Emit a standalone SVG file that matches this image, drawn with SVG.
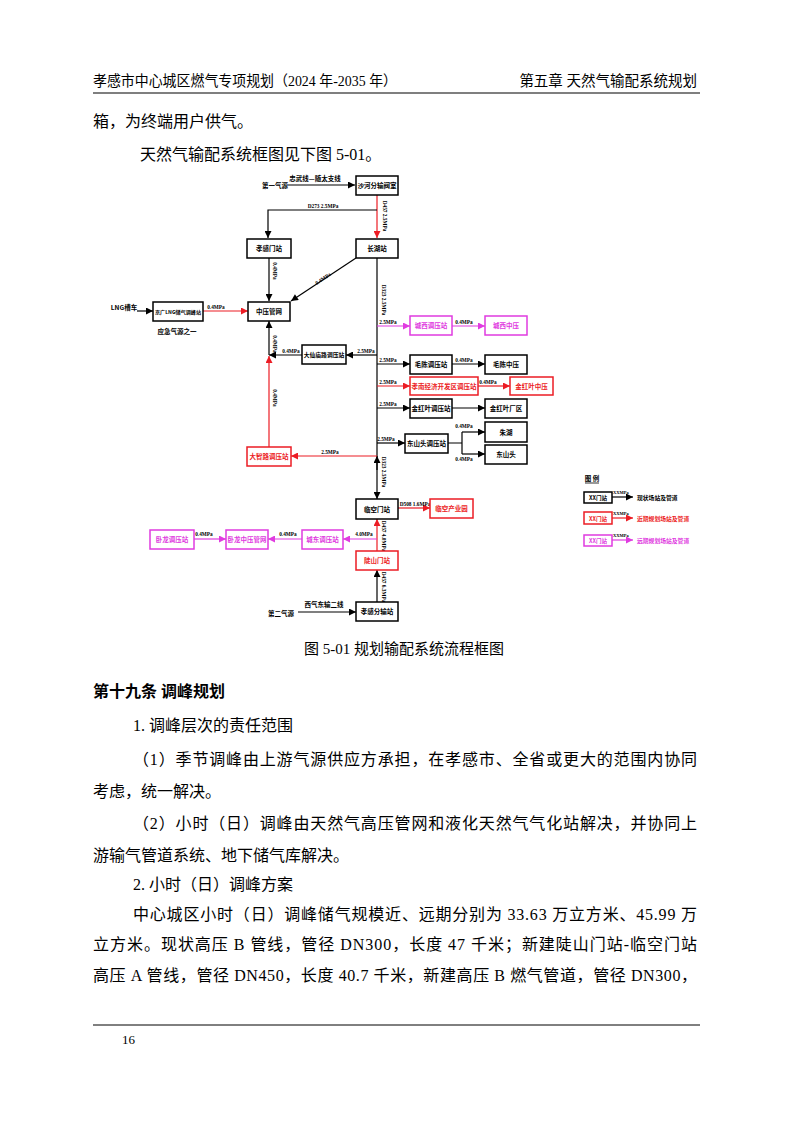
<svg xmlns="http://www.w3.org/2000/svg" width="794" height="1123" viewBox="0 0 794 1123">
<defs>
<marker id="ak" viewBox="0 0 10 10" refX="10" refY="5" markerWidth="11" markerHeight="7" orient="auto" markerUnits="userSpaceOnUse"><path d="M0,0 L10,5 L0,10 z" fill="#000"/></marker>
<marker id="ar" viewBox="0 0 10 10" refX="10" refY="5" markerWidth="11" markerHeight="7" orient="auto" markerUnits="userSpaceOnUse"><path d="M0,0 L10,5 L0,10 z" fill="#ec1c24"/></marker>
<marker id="am" viewBox="0 0 10 10" refX="10" refY="5" markerWidth="11" markerHeight="7" orient="auto" markerUnits="userSpaceOnUse"><path d="M0,0 L10,5 L0,10 z" fill="#e03be0"/></marker>
</defs>
<style>
.bk{fill:#fff;stroke:#000;stroke-width:1.5}
.br{fill:#fff;stroke:#ec1c24;stroke-width:1.5}
.bm{fill:#fff;stroke:#e03be0;stroke-width:1.5}
.t{font-family:"Noto Sans CJK SC",sans-serif;font-size:6.5px;font-weight:bold;text-anchor:middle;fill:#000}
.r{fill:#ec1c24}
.m{fill:#e03be0}
.p{font-family:"Liberation Serif","Noto Sans CJK SC",serif;font-size:5.3px;font-weight:bold;fill:#000}
.pc{text-anchor:middle}
.lk{stroke:#000;stroke-width:1.2;fill:none}
.lr{stroke:#ec1c24;stroke-width:1.2;fill:none}
.lm{stroke:#e03be0;stroke-width:1.2;fill:none}
.b{font-family:"Liberation Serif","Noto Sans CJK SC",serif;font-size:16px;fill:#000}
.h{font-family:"Liberation Serif","Noto Sans CJK SC",serif;font-size:14.5px;fill:#000}
</style>
<rect width="794" height="1123" fill="#fff"/>

<!-- page header -->
<text class="h" x="93" y="86" textLength="304" lengthAdjust="spacingAndGlyphs">孝感市中心城区燃气专项规划（2024 年-2035 年）</text>
<text class="h" x="697" y="86" text-anchor="end">第五章 天然气输配系统规划</text>
<line x1="93" y1="93" x2="700" y2="93" stroke="#000" stroke-width="1.2"/>

<text class="b" x="93" y="127">箱，为终端用户供气。</text>
<text class="b" x="140" y="160">天然气输配系统框图见下图 5-01。</text>

<!-- connectors -->
<g id="connectors">
<path class="lk" d="M288,185 H355" marker-end="url(#ak)"/>
<path class="lr" d="M377,195 V238" marker-end="url(#ar)"/>
<path class="lk" d="M377,210 H268 V238" marker-end="url(#ak)"/>
<path class="lk" d="M269,258 V301" marker-end="url(#ak)"/>
<path class="lk" d="M356,258 L291,301" marker-end="url(#ak)"/>
<path class="lk" d="M377,258 V499" marker-end="url(#ak)"/>
<path class="lk" d="M377,470 V456" marker-end="url(#ak)"/>
<path class="lk" d="M137,311 H153" marker-end="url(#ak)"/>
<path class="lr" d="M203,311 H248" marker-end="url(#ar)"/>
<path class="lk" d="M269,355 V321" marker-end="url(#ak)"/>
<path class="lk" d="M302,355 H269" marker-end="url(#ak)"/>
<path class="lk" d="M377,355 H346" marker-end="url(#ak)"/>
<path class="lr" d="M269,447 V356" marker-end="url(#ar)"/>
<path class="lr" d="M377,456 H291" marker-end="url(#ar)"/>
<path class="lm" d="M377,326 H410" marker-end="url(#am)"/>
<path class="lm" d="M452,326 H485" marker-end="url(#am)"/>
<path class="lk" d="M377,364 H410" marker-end="url(#ak)"/>
<path class="lk" d="M452,364 H485" marker-end="url(#ak)"/>
<path class="lr" d="M377,386 H410" marker-end="url(#ar)"/>
<path class="lr" d="M478,386 H510" marker-end="url(#ar)"/>
<path class="lk" d="M377,408 H410" marker-end="url(#ak)"/>
<path class="lk" d="M452,408 H485" marker-end="url(#ak)"/>
<path class="lk" d="M377,443 H405" marker-end="url(#ak)"/>
<path class="lk" d="M448,443 H462 M462,432 V454"/>
<path class="lk" d="M462,432 H485" marker-end="url(#ak)"/>
<path class="lk" d="M462,454 H485" marker-end="url(#ak)"/>
<path class="lr" d="M398,508 H430" marker-end="url(#ar)"/>
<path class="lr" d="M377,551 V519" marker-end="url(#ar)"/>
<path class="lk" d="M377,602 V570" marker-end="url(#ak)"/>
<path class="lk" d="M298,612 H356" marker-end="url(#ak)"/>
<path class="lm" d="M377,539 H343" marker-end="url(#am)"/>
<path class="lm" d="M302,539 H268" marker-end="url(#am)"/>
<path class="lm" d="M194,539 H226" marker-end="url(#am)"/>
</g>

<!-- connector labels -->
<g id="labels">
<text class="t" x="275" y="188">第一气源</text>
<text class="t" x="315" y="181">忠武线—随太支线</text>
<text class="p r pc" transform="translate(383,216) rotate(90)">D457 2.5MPa</text>
<text class="p pc" x="323" y="208">D273 2.5MPa</text>
<text class="p pc" transform="translate(273,271) rotate(90)">0.4MPa</text>
<text class="p pc" transform="translate(324,280) rotate(-34)">0.4MPa</text>
<text class="p pc" transform="translate(382,300) rotate(90)">D323 2.5MPa</text>
<text class="t" x="124" y="310">LNG槽车</text>
<text class="p r pc" x="216" y="309">0.4MPa</text>
<text class="t" x="177" y="334">应急气源之一</text>
<text class="p pc" transform="translate(273,344) rotate(90)">0.4MPa</text>
<text class="p pc" x="291" y="353">0.4MPa</text>
<text class="p pc" x="366" y="353">2.5MPa</text>
<text class="p r pc" transform="translate(273,398) rotate(90)">0.4MPa</text>
<text class="p r pc" x="330" y="454">2.5MPa</text>
<text class="p m pc" x="388" y="324">2.5MPa</text>
<text class="p m pc" x="464" y="324">0.4MPa</text>
<text class="p pc" x="388" y="362">2.5MPa</text>
<text class="p pc" x="464" y="362">0.4MPa</text>
<text class="p r pc" x="388" y="384">2.5MPa</text>
<text class="p r pc" x="488" y="384">0.4MPa</text>
<text class="p pc" x="388" y="406">2.5MPa</text>
<text class="p pc" x="386" y="441">2.5MPa</text>
<text class="p pc" x="464" y="428">0.4MPa</text>
<text class="p pc" x="464" y="461">0.4MPa</text>
<text class="p pc" transform="translate(382,472) rotate(90)">D323 2.5MPa</text>
<text class="p r pc" x="415" y="506">D508 1.6MPa</text>
<text class="p r pc" transform="translate(382,536) rotate(90)">D457 4.0MPa</text>
<text class="p pc" transform="translate(382,587) rotate(90)">D457 6.3MPa</text>
<text class="t" x="281" y="616">第二气源</text>
<text class="t" x="324" y="607">西气东输二线</text>
<text class="p m pc" x="364" y="536">4.0MPa</text>
<text class="p m pc" x="288" y="536">0.4MPa</text>
<text class="p m pc" x="204" y="536">0.4MPa</text>
</g>

<!-- nodes -->
<g id="n-shahe"><rect class="bk" x="356" y="176" width="42" height="19"/><text class="t" x="377" y="188">沙河分输阀室</text></g>
<g id="n-xiaogan"><rect class="bk" x="247" y="239" width="44" height="19"/><text class="t" x="269" y="251">孝感门站</text></g>
<g id="n-changhu"><rect class="bk" x="356" y="239" width="42" height="19"/><text class="t" x="377" y="251">长湖站</text></g>
<g id="n-zhongya"><rect class="bk" x="248" y="302" width="42" height="19"/><text class="t" x="269" y="314">中压管网</text></g>
<g id="n-lng"><rect class="bk" x="153" y="302" width="50" height="19"/><text class="t" x="178" y="314" style="font-size:5.1px">京广LNG储气调峰站</text></g>
<g id="n-daxianmiao"><rect class="bk" x="302" y="345" width="44" height="19"/><text class="t" x="324" y="357" style="font-size:5.8px">大仙庙路调压站</text></g>
<g id="n-dazhi"><rect class="br" x="247" y="447" width="44" height="19"/><text class="t r" x="269" y="459">大智路调压站</text></g>
<g id="n-chengxi"><rect class="bm" x="410" y="316" width="42" height="19"/><text class="t m" x="431" y="328">城西调压站</text></g>
<g id="n-chengxizy"><rect class="bm" x="485" y="316" width="42" height="19"/><text class="t m" x="506" y="328">城西中压</text></g>
<g id="n-maochen"><rect class="bk" x="410" y="355" width="42" height="19"/><text class="t" x="431" y="367">毛陈调压站</text></g>
<g id="n-maochenzy"><rect class="bk" x="485" y="355" width="42" height="19"/><text class="t" x="506" y="367">毛陈中压</text></g>
<g id="n-xiaonan"><rect class="br" x="410" y="377" width="68" height="18"/><text class="t r" x="444" y="388.5">孝南经济开发区调压站</text></g>
<g id="n-jhyzy"><rect class="br" x="510" y="377" width="43" height="18"/><text class="t r" x="531.5" y="388.5">金红叶中压</text></g>
<g id="n-jhy"><rect class="bk" x="410" y="399" width="42" height="19"/><text class="t" x="431" y="411">金红叶调压站</text></g>
<g id="n-jhycq"><rect class="bk" x="485" y="399" width="42" height="19"/><text class="t" x="506" y="411">金红叶厂区</text></g>
<g id="n-dongshantou"><rect class="bk" x="405" y="434" width="43" height="19"/><text class="t" x="426.5" y="446">东山头调压站</text></g>
<g id="n-zhuhu"><rect class="bk" x="485" y="422" width="42" height="20"/><text class="t" x="506" y="434.5">朱湖</text></g>
<g id="n-dst"><rect class="bk" x="485" y="445" width="42" height="19"/><text class="t" x="506" y="457">东山头</text></g>
<g id="n-linkong"><rect class="bk" x="356" y="499" width="42" height="20"/><text class="t" x="377" y="511.5">临空门站</text></g>
<g id="n-lkcy"><rect class="br" x="430" y="499" width="43" height="19"/><text class="t r" x="451.5" y="511">临空产业园</text></g>
<g id="n-doushan"><rect class="br" x="356" y="551" width="42" height="19"/><text class="t r" x="377" y="563">陡山门站</text></g>
<g id="n-fenshu"><rect class="bk" x="356" y="602" width="42" height="19"/><text class="t" x="377" y="614">孝感分输站</text></g>
<g id="n-chengdong"><rect class="bm" x="302" y="530" width="41" height="19"/><text class="t m" x="322.5" y="542">城东调压站</text></g>
<g id="n-wolongzy"><rect class="bm" x="226" y="530" width="42" height="19"/><text class="t m" x="247" y="542">卧龙中压管网</text></g>
<g id="n-wolong"><rect class="bm" x="150" y="530" width="44" height="19"/><text class="t m" x="172" y="542">卧龙调压站</text></g>

<!-- legend -->
<g id="legend">
<text class="t" x="592" y="481">图 例</text>
<line x1="585" y1="483" x2="599" y2="483" stroke="#000" stroke-width="0.8"/>
<rect class="bk" x="584" y="492" width="28" height="11"/><text class="t" x="598" y="500" style="font-size:5.5px">XX门站</text>
<text class="p" x="613" y="494" style="font-size:4.5px">XXMPa</text>
<path class="lk" d="M612,497 H633" marker-end="url(#ak)"/>
<text class="t" x="637" y="499.5" style="text-anchor:start;font-size:5.8px">现状场站及管道</text>
<rect class="br" x="584" y="512" width="28" height="12"/><text class="t r" x="598" y="520.5" style="font-size:5.5px">XX门站</text>
<text class="p r" x="613" y="515" style="font-size:4.5px">XXMPa</text>
<path class="lr" d="M612,518 H633" marker-end="url(#ar)"/>
<text class="t r" x="637" y="521" style="text-anchor:start;font-size:5.8px">近期规划场站及管道</text>
<rect class="bm" x="584" y="535" width="28" height="11"/><text class="t m" x="598" y="543" style="font-size:5.5px">XX门站</text>
<text class="p m" x="613" y="537" style="font-size:4.5px">XXMPa</text>
<path class="lm" d="M612,540 H633" marker-end="url(#am)"/>
<text class="t m" x="637" y="543" style="text-anchor:start;font-size:5.8px">远期规划场站及管道</text>
</g>

<!-- caption and body -->
<text class="b" x="404" y="654" text-anchor="middle" style="font-size:15px">图 5-01 规划输配系统流程框图</text>
<text class="b" x="93" y="697" style="font-weight:bold">第十九条 调峰规划</text>
<text class="b" x="133" y="731">1. 调峰层次的责任范围</text>
<text class="b" x="133" y="765" textLength="564" lengthAdjust="spacing">（1）季节调峰由上游气源供应方承担，在孝感市、全省或更大的范围内协同</text>
<text class="b" x="93" y="797">考虑，统一解决。</text>
<text class="b" x="133" y="829" textLength="564" lengthAdjust="spacing">（2）小时（日）调峰由天然气高压管网和液化天然气气化站解决，并协同上</text>
<text class="b" x="93" y="861">游输气管道系统、地下储气库解决。</text>
<text class="b" x="133" y="890">2. 小时（日）调峰方案</text>
<text class="b" x="133" y="920" textLength="564" lengthAdjust="spacing">中心城区小时（日）调峰储气规模近、远期分别为 33.63 万立方米、45.99 万</text>
<text class="b" x="93" y="950" textLength="604" lengthAdjust="spacing">立方米。现状高压 B 管线，管径 DN300，长度 47 千米；新建陡山门站-临空门站</text>
<text class="b" x="93" y="981" textLength="604" lengthAdjust="spacing">高压 A 管线，管径 DN450，长度 40.7 千米，新建高压 B 燃气管道，管径 DN300，</text>
<line x1="93" y1="1025" x2="700" y2="1025" stroke="#000" stroke-width="1"/>
<text class="b" x="122" y="1044" style="font-size:13px">16</text>
</svg>
